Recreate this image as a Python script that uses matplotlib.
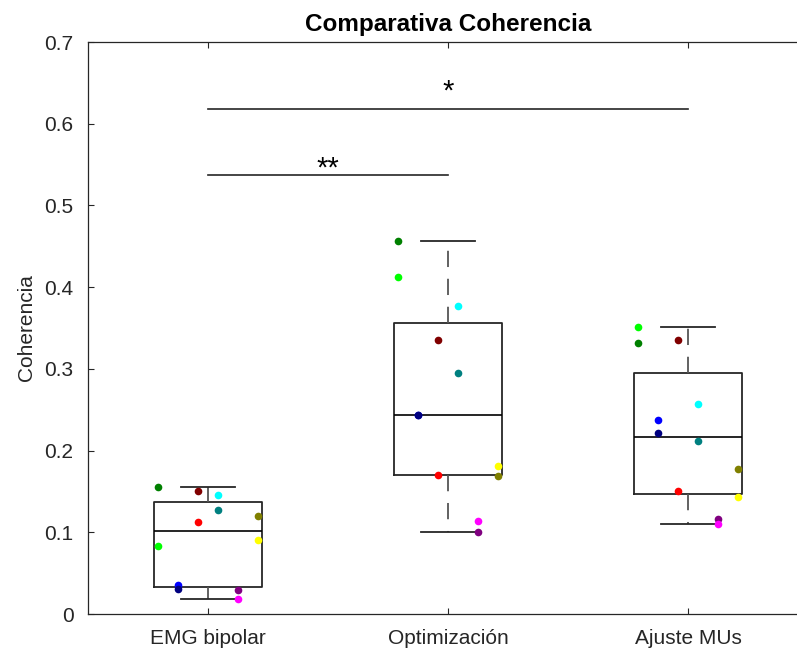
import numpy as np
import matplotlib
matplotlib.use("Agg")
from matplotlib import pyplot as plt

plt.rcParams['font.family'] = ['Liberation Sans', 'DejaVu Sans']

# datos
grupos = ["EMG bipolar", "Optimización", "Ajuste MUs"]
colores = [(0, 0.5, 0), (0, 1, 0), (0, 0, 1), (0, 0, 0.5),
           (0.5, 0, 0), (1, 0, 0), (0, 1, 1), (0, 0.5, 0.5),
           (0.5, 0, 0.5), (1, 0, 1), (0.5, 0.5, 0), (1, 1, 0)]
emg_bipolar = [0.156, 0.083, 0.035, 0.030, 0.151, 0.113, 0.146, 0.127, 0.029, 0.018, 0.120, 0.091]
optimizacion = [0.457, 0.412, 0.243, 0.243, 0.335, 0.170, 0.377, 0.295, 0.100, 0.114, 0.169, 0.181]
ajuste_mus = [0.332, 0.351, 0.237, 0.222, 0.335, 0.150, 0.257, 0.212, 0.116, 0.110, 0.178, 0.143]
desplaz = [-0.208, -0.208, -0.125, -0.125, -0.042, -0.042, 0.042, 0.042, 0.125, 0.125, 0.208, 0.208]
# (grupo a, grupo b, altura linea, altura texto, texto)
signif = [(1, 2, 0.537, 0.545, "**"), (1, 3, 0.618, 0.639, "*")]

datos = [emg_bipolar, optimizacion, ajuste_mus]

fig = plt.figure(figsize=(7.97, 6.51), dpi=100)
ax = fig.add_axes([88/797, 37/651, 720/797, 572/651])

# estadisticas tipo matlab (prctile)
stats = []
for d in datos:
    d = np.array(d)
    q1, med, q3 = np.percentile(d, [25, 50, 75], method='hazen')
    stats.append(dict(med=med, q1=q1, q3=q3, whislo=d.min(), whishi=d.max(), fliers=[]))

oscuro = '#262626'
ax.bxp(stats, positions=[1, 2, 3], widths=0.45, capwidths=0.225,
       boxprops=dict(color=oscuro, lw=1.3),
       whiskerprops=dict(color='#555555', lw=1.3, linestyle=(0, (9, 6.5))),
       capprops=dict(color=oscuro, lw=1.3),
       medianprops=dict(color='black', lw=1.2), showfliers=False)

for i, d in enumerate(datos):
    for v, c, dx in zip(d, colores, desplaz):
        ax.plot(i + 1 + dx, v, 'o', color=c, markersize=5.5, markeredgewidth=0, zorder=5)

for a, b, y, yt, txt in signif:
    ax.plot([a, b], [y, y], color=oscuro, lw=1.2)
    ax.text((a + b) / 2, yt, txt, ha='center', va='center', fontsize=21, color='black')

ax.set_xlim(0.5, 3.5)
ax.set_ylim(0, 0.7)
ax.set_xticks([1, 2, 3])
ax.set_xticklabels(grupos)
ax.set_yticks(np.arange(0, 0.71, 0.1))
ax.set_yticklabels(['0', '0.1', '0.2', '0.3', '0.4', '0.5', '0.6', '0.7'])
ax.tick_params(direction='in', length=4, width=0.8, colors=oscuro, labelsize=15,
               top=True, right=True, pad=10.5)
for s in ax.spines.values():
    s.set_color(oscuro)
    s.set_linewidth(0.9)
ax.set_ylabel("Coherencia", fontsize=15, color=oscuro, labelpad=6)
ax.set_title("Comparativa Coherencia", fontsize=17.5, fontweight='bold', pad=8)

fig.savefig("out.png", dpi=100)
